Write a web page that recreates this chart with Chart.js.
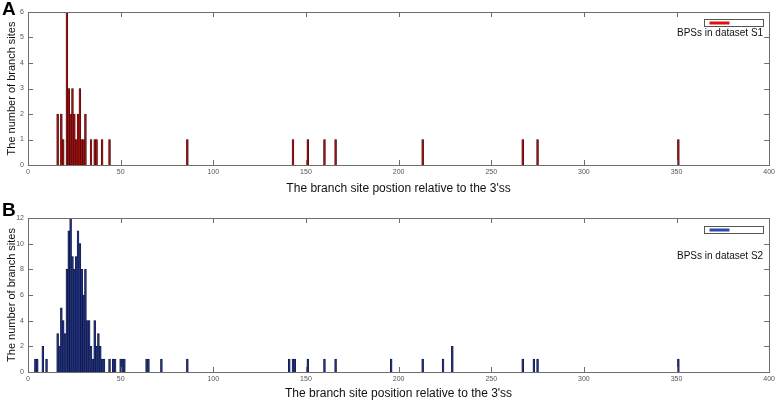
<!DOCTYPE html>
<html>
<head>
<meta charset="utf-8">
<script src="https://cdn.jsdelivr.net/npm/chart.js@4.4.1/dist/chart.umd.min.js"></script>
<style>
  html, body { margin: 0; padding: 0; background: #fff; }
  #wrap { position: relative; width: 778px; height: 401px; }
  .pane { position: absolute; left: 0; }
  .letter { position: absolute; left: 2px; font: bold 19px "Liberation Sans", Arial, sans-serif; color: #000; }
</style>
</head>
<body>
<div id="wrap">
  <div class="pane" style="top:0;width:778px;height:200px"><canvas id="chartA"></canvas></div>
  <div class="pane" style="top:200px;width:778px;height:201px"><canvas id="chartB"></canvas></div>
  <div class="letter" style="top:-2px">A</div>
  <div class="letter" style="top:199px">B</div>
</div>
<script>
// Dados: posição (nt antes do 3'ss) e número de sítios
const positionsA = [16, 18, 19, 21, 22, 23, 24, 25, 26, 27, 28, 29, 30, 31, 34, 36, 37, 40, 44,
                    86, 143, 151, 160, 166, 213, 267, 275, 351];
const countsA    = [2, 2, 1, 6, 3, 2, 3, 2, 1, 2, 3, 1, 1, 2, 1, 1, 1, 1, 1,
                    1, 1, 1, 1, 1, 1, 1, 1, 1];

const positionsB = [4, 5, 8, 10, 16, 17, 18, 19, 20, 21, 22, 23, 24, 25, 26, 27, 28, 29, 30, 31,
                    32, 33, 34, 35, 36, 37, 38, 39, 40, 41, 44, 46, 47, 50, 51, 52, 64, 65, 72, 86,
                    141, 143, 144, 151, 160, 166, 196, 213, 224, 229, 267, 273, 275, 351];
const countsB    = [1, 1, 2, 1, 3, 2, 5, 4, 3, 8, 11, 12, 9, 8, 9, 11, 10, 8, 6, 8,
                    4, 4, 2, 1, 4, 2, 3, 2, 1, 1, 1, 1, 1, 1, 1, 1, 1, 1, 1, 1,
                    1, 1, 1, 1, 1, 1, 1, 1, 1, 2, 1, 1, 1, 1];

const xTicks = [0, 50, 100, 150, 200, 250, 300, 350, 400];
const yMaxA = 6, yStepA = 1;
const yMaxB = 12, yStepB = 2;

const fonte = '"Liberation Sans", Arial, Helvetica, sans-serif';

// Moldura estilo MATLAB com marcas para dentro + legenda
const moldura = {
    id: 'moldura',
    afterDatasetsDraw(chart, args, opts) {
        const ctx = chart.ctx;
        const a = chart.chartArea;
        const xs = chart.scales.x, ys = chart.scales.y;
        ctx.save();
        ctx.strokeStyle = '#6e6e6e';
        ctx.lineWidth = 1;
        ctx.strokeRect(Math.round(a.left) + 0.5, Math.round(a.top) + 0.5,
                       Math.round(a.right - a.left), Math.round(a.bottom - a.top));
        ctx.beginPath();
        xs.ticks.forEach(t => {
            const px = Math.round(xs.getPixelForValue(t.value)) + 0.5;
            ctx.moveTo(px, a.bottom); ctx.lineTo(px, a.bottom - 5);
            ctx.moveTo(px, a.top); ctx.lineTo(px, a.top + 5);
        });
        ys.ticks.forEach(t => {
            const py = Math.round(ys.getPixelForValue(t.value)) + 0.5;
            ctx.moveTo(a.left, py); ctx.lineTo(a.left + 5, py);
            ctx.moveTo(a.right, py); ctx.lineTo(a.right - 5, py);
        });
        ctx.stroke();

        // legenda
        const bx = Math.round(a.right - 65) + 0.5, by = Math.round(a.top + opts.boxTop) + 0.5;
        ctx.fillStyle = '#fff';
        ctx.fillRect(bx, by, 59, 7);
        ctx.strokeStyle = '#555';
        ctx.strokeRect(bx, by, 59, 7);
        ctx.fillStyle = opts.cor;
        ctx.fillRect(bx + 5, by + 2, 20, 3);
        ctx.fillStyle = '#111';
        ctx.font = '10px ' + fonte;
        ctx.textAlign = 'right';
        ctx.textBaseline = 'middle';
        ctx.fillText(opts.texto, a.right - 6, a.top + opts.textTop);
        ctx.restore();
    }
};

function criarGrafico(id, posicoes, valores, cfg) {
    const ctx = document.getElementById(id).getContext('2d');
    return new Chart(ctx, {
        type: 'bar',
        data: {
            datasets: [{
                data: posicoes.map((p, i) => ({ x: p, y: valores[i] })),
                backgroundColor: cfg.fill,
                borderColor: cfg.edge,
                borderWidth: 0.5,
                borderSkipped: 'start',
                barPercentage: 1,
                categoryPercentage: 1
            }]
        },
        options: {
            responsive: true,
            maintainAspectRatio: false,
            animation: false,
            layout: { padding: { left: 0, top: cfg.top, right: 7, bottom: 0 } },
            plugins: {
                legend: { display: false },
                tooltip: { enabled: false },
                moldura: { cor: cfg.legendColor, texto: cfg.legendText, boxTop: cfg.boxTop, textTop: cfg.textTop }
            },
            scales: {
                x: {
                    type: 'linear',
                    min: 0, max: 400,
                    offset: false,
                    afterBuildTicks: s => { s.ticks = xTicks.map(v => ({ value: v })); },
                    afterFit: s => { s.height = cfg.xHeight; },
                    grid: { display: false, drawTicks: false },
                    border: { display: false },
                    ticks: { color: '#555', font: { family: fonte, size: 7 }, padding: 3, maxRotation: 0 },
                    title: {
                        display: true,
                        text: cfg.xTitle,
                        color: '#111',
                        font: { family: fonte, size: 12 },
                        padding: { top: 0, bottom: cfg.xTitlePad }
                    }
                },
                y: {
                    min: 0, max: cfg.yMax,
                    afterFit: s => { s.width = 28; },
                    grid: { display: false, drawTicks: false },
                    border: { display: false },
                    ticks: { stepSize: cfg.yStep, color: '#555', font: { family: fonte, size: 7 }, padding: 4 },
                    title: {
                        display: true,
                        text: 'The number of branch sites',
                        color: '#111',
                        font: { family: fonte, size: 11 },
                        padding: { top: 5, bottom: 0 }
                    }
                }
            }
        },
        plugins: [moldura]
    });
}

criarGrafico('chartA', positionsA, countsA, {
    fill: '#a00f0f', edge: '#260505', legendColor: '#e01010', legendText: 'BPSs in dataset S1',
    top: 12, xHeight: 35, xTitlePad: 4, yMax: yMaxA, yStep: yStepA, boxTop: 7, textTop: 21,
    xTitle: "The branch site postion relative to the 3'ss"
});

criarGrafico('chartB', positionsB, countsB, {
    fill: '#1f3080', edge: '#0a0d22', legendColor: '#2c4aa8', legendText: 'BPSs in dataset S2',
    top: 18, xHeight: 29, xTitlePad: 0, yMax: yMaxB, yStep: yStepB, boxTop: 8, textTop: 38,
    xTitle: "The branch site position relative to the 3'ss"
});
</script>
</body>
</html>
